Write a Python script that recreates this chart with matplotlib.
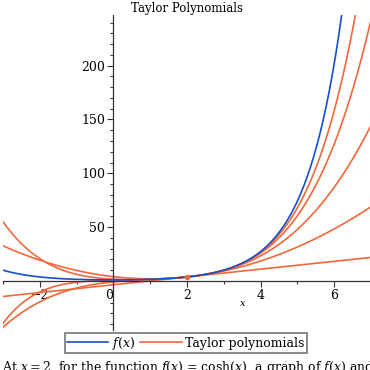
import numpy as np
import matplotlib.pyplot as plt
from matplotlib.ticker import MultipleLocator, FixedLocator

plt.rcParams['font.family'] = 'DejaVu Serif'
plt.rcParams['mathtext.fontset'] = 'dejavuserif'

# chart content: f(x) = cosh(x), Taylor polynomials about x = 2, orders 1..5
center = 2.0
orders = [1, 2, 3, 4, 5]
derivs = [3.762, 3.627, 3.762, 3.627, 3.762, 3.627]  # f^(k)(2): cosh, sinh, ...
x_ticks = [-2, 0, 2, 4, 6]
y_ticks = [50, 100, 150, 200]

BLUE = '#1550c8'
ORANGE = '#f3683b'

x = np.linspace(-3, 7, 600)


def taylor(n, xs):
    out = np.zeros_like(xs)
    fact = 1.0
    for k in range(n + 1):
        if k > 0:
            fact *= k
        out += derivs[k] / fact * (xs - center) ** k
    return out


fig = plt.figure(figsize=(3.7, 3.7), dpi=100)
ax = fig.add_axes([3 / 370, 40 / 370, 368 / 370, 315 / 370])

ax.plot(x, np.cosh(x), color=BLUE, lw=1.2, label='$f(x)$', zorder=3)
for i, n in enumerate(orders):
    ax.plot(x, taylor(n, x), color=ORANGE, lw=1.2,
            label='Taylor polynomials' if i == 0 else None, zorder=2)
ax.plot([center], [derivs[0]], 'o', color=ORANGE, ms=3, zorder=4)

ax.set_xlim(-3, 7)
ax.set_ylim(-45.5, 247)

for s in ['top', 'right']:
    ax.spines[s].set_visible(False)
ax.spines['left'].set_position(('data', 0))
ax.spines['bottom'].set_position(('data', 0))
for s in ['left', 'bottom']:
    ax.spines[s].set_color('#333333')
    ax.spines[s].set_linewidth(0.9)

ax.xaxis.set_major_locator(FixedLocator(x_ticks))
ax.xaxis.set_minor_locator(MultipleLocator(1))
ax.yaxis.set_major_locator(FixedLocator(y_ticks))
ax.yaxis.set_minor_locator(MultipleLocator(10))
ax.set_xticklabels(['\u22122', '0', '2', '4', '6'])
ax.tick_params(axis='both', which='major', labelsize=9, length=4, width=0.8,
               color='#333333', pad=2)
ax.tick_params(axis='both', which='minor', length=2.5, width=0.8, color='#333333')
for lbl in ax.get_xticklabels():
    if lbl.get_text() == '0':
        lbl.set_horizontalalignment('right')

ax.text(3.5, -21, '$x$', fontsize=7, ha='center', va='center')
ax.set_title('Taylor Polynomials', fontsize=8.5, pad=2)

leg = fig.legend(loc='center', bbox_to_anchor=(186 / 370, 1 - 343 / 370), ncol=2,
                 fontsize=9, frameon=True, fancybox=False, edgecolor='#555555',
                 handlelength=3.3, handletextpad=0.3, columnspacing=0.4,
                 borderpad=0.15, borderaxespad=0)
leg.get_frame().set_linewidth(1.2)

fig.text(2 / 370, 1 - 367 / 370,
         'At $x = 2$, for the function $f(x)$ = cosh$(x)$, a graph of $f(x)$ and',
         fontsize=9, ha='left', va='center')

fig.savefig('out.png', dpi=100)
